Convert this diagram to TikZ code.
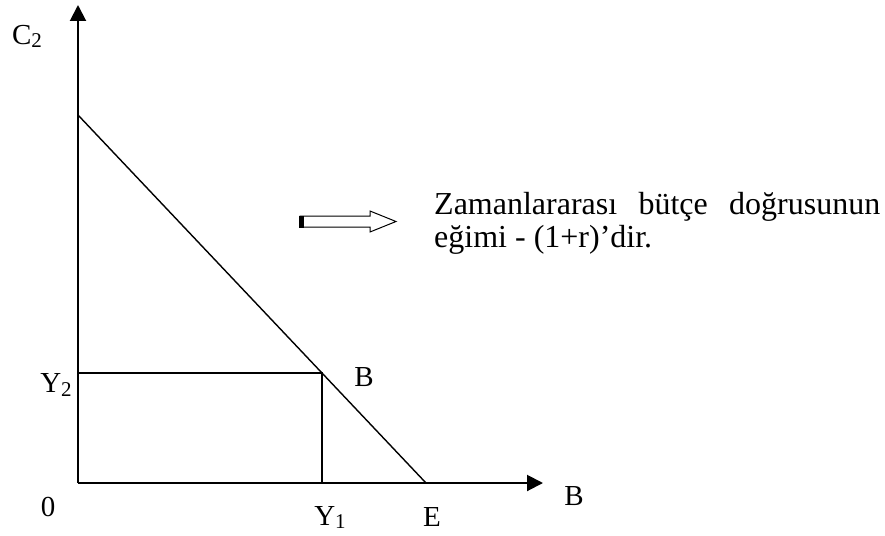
\documentclass[tikz,border=0pt]{standalone}
\usepackage{fontspec}
\setmainfont{Liberation Serif}
\usetikzlibrary{arrows.meta}
\tikzset{
  axis/.style={line width=2pt,-{Triangle[length=16pt,width=16pt]}},
  thinline/.style={line width=1.4pt},
  lbl/.style={font=\fontsize{29}{29}\selectfont,inner sep=0pt},
  txt/.style={font=\fontsize{32}{36}\selectfont,inner sep=0pt,anchor=base west},
}
\newcommand{\sbs}[1]{\raisebox{-3pt}{\fontsize{21}{21}\selectfont #1}}
\begin{document}
\begin{tikzpicture}[x=1pt,y=-1pt]
\useasboundingbox (0,0) rectangle (885,535);
\coordinate (O) at (78,483);
\coordinate (ytop) at (78,5);
\coordinate (xend) at (543,483);
\coordinate (T) at (78,115);
\coordinate (E) at (426,483);
\coordinate (Bp) at (322,373);
\coordinate (Y2a) at (78,373);
\coordinate (Y1a) at (322,483);
\draw[axis] (O) -- (ytop);
\draw[axis] (O) -- (xend);
\draw[thinline] (T) -- (E);
\draw[thinline] (Y2a) -- (Bp) -- (Y1a);
% labels
\node[lbl] (c2) at (27,36) {C\sbs{2}};
\node[lbl] (y2) at (56,385) {Y\sbs{2}};
\node[lbl] (zero) at (48,507) {0};
\node[lbl] (y1) at (330,517) {Y\sbs{1}};
\node[lbl] (e) at (432,517) {E};
\node[lbl] (b) at (364,377) {B};
\node[lbl] (bx) at (574,496) {B};
% block arrow
\fill[white] (300,216) -- (370,216) -- (370,211) -- (396,221.5) -- (370,232) -- (370,227) -- (300,227) -- cycle;
\draw[line width=1pt,line join=miter] (300,216) -- (370,216) -- (370,211) -- (396,221.5) -- (370,232) -- (370,227) -- (300,227) -- cycle;
\fill (299,215.5) rectangle (304,227.5);
% text
\node[txt] (t1) at (434,214) {\makebox[446pt][s]{Zamanlararası\hfill bütçe\hfill doğrusunun}};
\node[txt] (t2) at (434,247) {eğimi - (1+r)’dir.};
\end{tikzpicture}
\end{document}
